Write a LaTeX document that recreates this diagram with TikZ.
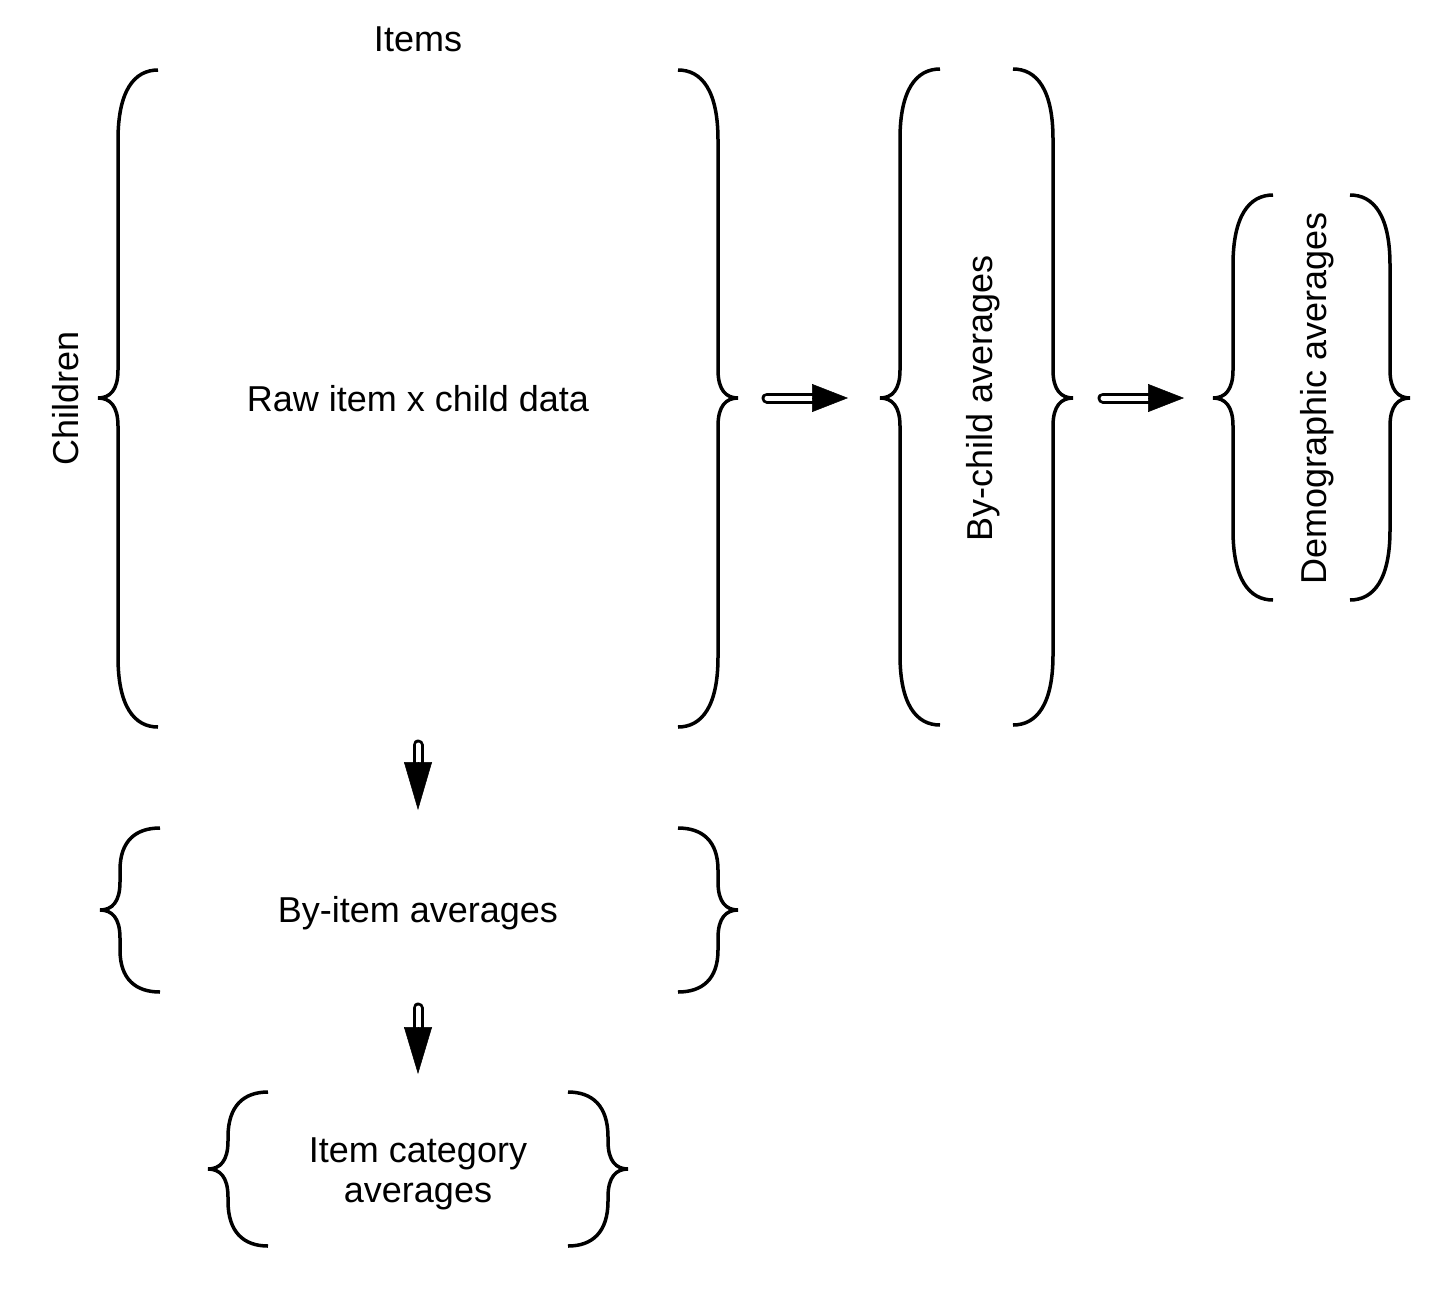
\documentclass[tikz,border=0pt]{standalone}
\usepackage{fontspec}
\setmainfont{Liberation Sans}
\usetikzlibrary{arrows.meta,calc}

% #1 line x, #2 top y, #3 tip y, #4 bottom y, #5 corner height
\newcommand{\leftbrc}[5]{%
\draw [brc] (#1+40,#2) .. controls (#1+16,#2) and (#1,#2+0.3*#5) .. (#1,#2+#5) -- (#1,#3-28) .. controls (#1,#3-8) and (#1-8,#3) .. (#1-20,#3) .. controls (#1-8,#3) and (#1,#3+8) .. (#1,#3+28) -- (#1,#4-#5) .. controls (#1,#4-0.3*#5) and (#1+16,#4) .. (#1+40,#4);}
\newcommand{\rightbrc}[5]{%
\draw [brc] (#1-40,#2) .. controls (#1-16,#2) and (#1,#2+0.3*#5) .. (#1,#2+#5) -- (#1,#3-28) .. controls (#1,#3-8) and (#1+8,#3) .. (#1+20,#3) .. controls (#1+8,#3) and (#1,#3+8) .. (#1,#3+28) -- (#1,#4-#5) .. controls (#1,#4-0.3*#5) and (#1-16,#4) .. (#1-40,#4);}
% #1 from, #2 to, #3 head length
\newcommand{\fatarrow}[3]{%
\draw [shaft, shorten >=#3pt-4pt] (#1) -- (#2);
\draw [line width=0.5pt, -{Triangle[length=#3pt,width=28pt]}] ($(#2)!#3pt!(#1)$) -- (#2);}

\begin{document}
\begin{tikzpicture}[x=1pt,y=-1pt]
\tikzstyle{every node}+=[inner sep=0pt]
\tikzstyle{brc}=[line width=3.5pt]
\tikzstyle{txt}=[font=\fontsize{36}{40}\selectfont, align=center]
\tikzstyle{shaft}=[double=white, double distance=5pt, line width=3pt, line cap=round]
\useasboundingbox (0,0) rectangle (1432,1288);
% raw data
\leftbrc{118}{70}{398}{727}{70}
\rightbrc{718}{70}{398}{727}{70}
\node [txt, anchor=base] (items) at (418,51) {Items};
\node [txt, anchor=base, rotate=90] (children) at (78,398) {Children};
\node [txt, anchor=base] (raw) at (418,411) {Raw item x child data};
% by child
\leftbrc{900}{69}{398}{725}{70}
\rightbrc{1053}{69}{398}{725}{70}
\node [txt, anchor=base, rotate=90] (bychild) at (992,398) {By-child averages};
% demographic
\leftbrc{1233}{195}{398}{600}{70}
\rightbrc{1390}{195}{398}{600}{70}
\node [txt, anchor=base, rotate=90] (demo) at (1326,398) {Demographic averages};
% by item
\leftbrc{120}{828}{910}{992}{42}
\rightbrc{718}{828}{910}{992}{42}
\node [txt, anchor=base] (byitem) at (418,922) {By-item averages};
% item category
\leftbrc{228}{1092}{1169}{1246}{45}
\rightbrc{608}{1092}{1169}{1246}{45}
\node [txt] (itemcat) at (418,1174) {Item category\\averages};
% arrows
\coordinate (rawout) at (767,398);
\coordinate (childin) at (848,398);
\coordinate (childout) at (1103,398);
\coordinate (demoin) at (1184,398);
\coordinate (rawdown) at (418,745);
\coordinate (itemin) at (418,810);
\coordinate (itemdown) at (418,1008);
\coordinate (catin) at (418,1074);
\fatarrow{rawout}{childin}{36}
\fatarrow{childout}{demoin}{36}
\fatarrow{rawdown}{itemin}{48}
\fatarrow{itemdown}{catin}{47}
\end{tikzpicture}
\end{document}
